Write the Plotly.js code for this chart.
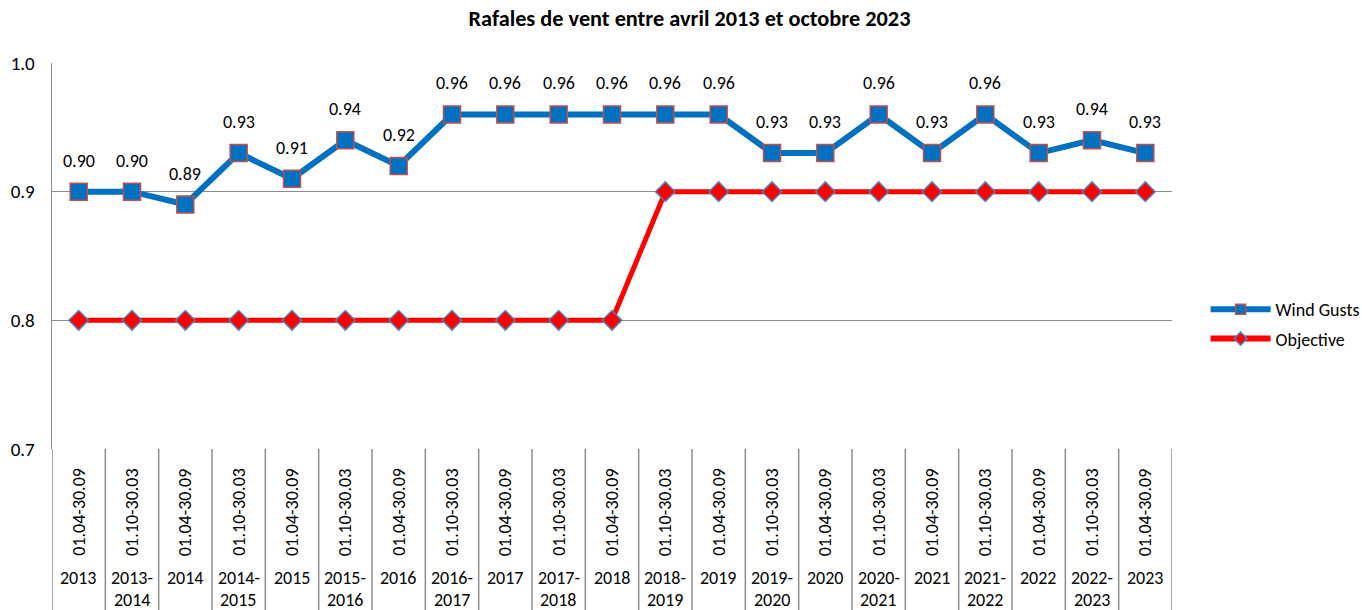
<!DOCTYPE html>
<html>
<head>
<meta charset="utf-8">
<script src="https://cdn.plot.ly/plotly-3.0.1.min.js"></script>
<style>html,body{margin:0;padding:0;background:#fff;}#chart{width:1362px;height:610px;}</style>
</head>
<body>
<div id="chart"></div>
<script>
const periods = ["01.04-30.09","01.10-30.03","01.04-30.09","01.10-30.03","01.04-30.09","01.10-30.03","01.04-30.09","01.10-30.03","01.04-30.09","01.10-30.03","01.04-30.09","01.10-30.03","01.04-30.09","01.10-30.03","01.04-30.09","01.10-30.03","01.04-30.09","01.10-30.03","01.04-30.09","01.10-30.03","01.04-30.09"];
const years = ["2013","2013-2014","2014","2014-2015","2015","2015-2016","2016","2016-2017","2017","2017-2018","2018","2018-2019","2019","2019-2020","2020","2020-2021","2021","2021-2022","2022","2022-2023","2023"];
const windGusts = [0.90,0.90,0.89,0.93,0.91,0.94,0.92,0.96,0.96,0.96,0.96,0.96,0.96,0.93,0.93,0.96,0.93,0.96,0.93,0.94,0.93];
const objective = [0.80,0.80,0.80,0.80,0.80,0.80,0.80,0.80,0.80,0.80,0.80,0.90,0.90,0.90,0.90,0.90,0.90,0.90,0.90,0.90,0.90];

const FONT = "Carlito, Calibri, Lato, sans-serif";
const idx = periods.map((_, i) => i);
const plotTop = 63, plotBottom = 449, plotH = plotBottom - plotTop;
const py = p => (plotBottom - p) / plotH;
const gray = "#8c8c8c";
const blue = "#0070c0", red = "#ff0000";

const traces = [
  {
    x: idx, y: windGusts, name: "Wind Gusts", type: "scatter", mode: "lines+markers", showlegend: false,
    line: {color: blue, width: 6},
    marker: {symbol: "square", size: 17, color: blue, line: {color: "#c0504d", width: 1.5}},
    cliponaxis: false
  },
  {
    x: idx, y: objective, name: "Objective", type: "scatter", mode: "lines+markers", showlegend: false,
    line: {color: red, width: 5},
    marker: {symbol: "diamond", size: 15, color: red, line: {color: "#4f81bd", width: 1.5}},
    cliponaxis: false
  },
  {
    x: [null], y: [null], name: "Wind Gusts", type: "scatter", mode: "lines+markers", legendgroup: "a",
    line: {color: blue, width: 6},
    marker: {symbol: "square", size: 10, color: blue, line: {color: "#c0504d", width: 1.5}}
  },
  {
    x: [null], y: [null], name: "Objective", type: "scatter", mode: "lines+markers", legendgroup: "b",
    line: {color: red, width: 6},
    marker: {symbol: "diamond", size: 10, color: red, line: {color: "#4f81bd", width: 1.5}}
  }
];

const shapes = [];
const annotations = [];
for (let i = 0; i <= periods.length; i++) {
  shapes.push({type: "line", xref: "x", yref: "paper", x0: i - 0.5, x1: i - 0.5, y0: 0, y1: py(610),
    line: {color: gray, width: 1.5}});
}
const lf = {family: FONT, size: 18, color: "#000"};
periods.forEach((p, i) => {
  annotations.push({x: i, y: py(512), xref: "x", yref: "paper", text: p, showarrow: false,
    textangle: -90, xanchor: "center", yanchor: "middle", font: lf});
  const parts = years[i].split("-");
  annotations.push({x: i, y: py(578), xref: "x", yref: "paper", text: parts.length > 1 ? parts[0] + "-" : parts[0],
    showarrow: false, xanchor: "center", yanchor: "middle", font: lf});
  if (parts.length > 1) {
    annotations.push({x: i, y: py(600), xref: "x", yref: "paper", text: parts[1], showarrow: false,
      xanchor: "center", yanchor: "middle", font: lf});
  }
});
windGusts.forEach((v, i) => {
  annotations.push({x: i, y: v, xref: "x", yref: "y", text: v.toFixed(2), showarrow: false,
    xanchor: "center", yanchor: "middle", yshift: 31, font: lf});
});

const layout = {
  width: 1362, height: 610,
  margin: {l: 52, r: 190, t: plotTop, b: 610 - plotBottom, pad: 0, autoexpand: false},
  paper_bgcolor: "#fff", plot_bgcolor: "#fff",
  title: {text: "<b>Rafales de vent entre avril 2013 et octobre 2023</b>", x: 689.5 / 1362, xref: "container",
    y: 1 - 18 / 610, yref: "container", xanchor: "center", yanchor: "middle",
    font: {family: FONT, size: 22.3, color: "#000"}},
  showlegend: true,
  legend: {x: 1.03, y: py(291), xanchor: "left", yanchor: "top", font: {family: FONT, size: 18, color: "#000"},
    bgcolor: "rgba(0,0,0,0)", tracegroupgap: 3, itemwidth: 60},
  xaxis: {range: [-0.5, periods.length - 0.5], showgrid: false, zeroline: false, showticklabels: false,
    ticks: "", showline: false, fixedrange: true},
  yaxis: {range: [0.7, 1.0], dtick: 0.1, tick0: 0.7, tickformat: ".1f", showgrid: true, gridcolor: gray, gridwidth: 1.5,
    zeroline: false, showline: true, linecolor: gray, linewidth: 1.5, ticks: "", ticklabelstandoff: 12,
    tickfont: {family: FONT, size: 19, color: "#000"}, fixedrange: true},
  shapes: shapes,
  annotations: annotations
};

Plotly.newPlot("chart", traces, layout, {displayModeBar: false, staticPlot: true});
</script>
</body>
</html>
